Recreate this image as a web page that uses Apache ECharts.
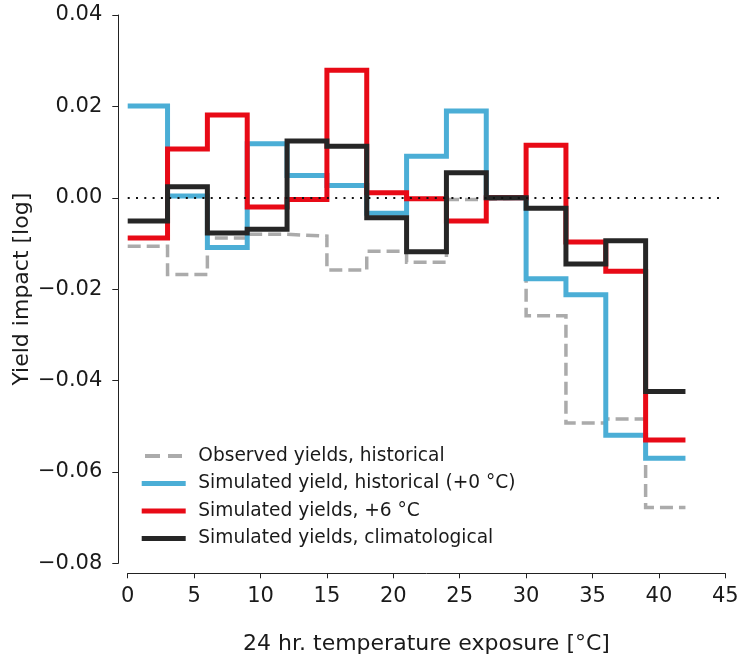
<!DOCTYPE html>
<html>
<head>
<meta charset="utf-8">
<script src="https://cdn.jsdelivr.net/npm/echarts@6/dist/echarts.min.js"></script>
<style>
  html, body { margin: 0; padding: 0; background: #fff; }
  #chart { width: 740px; height: 659px; }
</style>
</head>
<body>
<div id="chart"></div>
<script>
// bin edges of the temperature exposure (°C)
var binEdges = [0, 3, 6, 9, 12, 15, 18, 21, 24, 27, 30, 33, 36, 39, 42];

// one value per 3 °C bin
var observedHist = [-0.0106, -0.0168, -0.0088, -0.0080, -0.0084, -0.0158, -0.0117, -0.0141, -0.0004, 0, -0.0258, -0.0493, -0.0484, -0.0678];
var simHist = [0.0201, 0.0004, -0.0109, 0.0118, 0.0049, 0.0027, -0.0034, 0.0091, 0.0190, 0, -0.0177, -0.0212, -0.0520, -0.0570];
var simPlus6 = [-0.0088, 0.0107, 0.0181, -0.0020, -0.0004, 0.0279, 0.0011, -0.0002, -0.0051, 0, 0.0115, -0.0097, -0.0161, -0.0530];
var simClim = [-0.0051, 0.0024, -0.0077, -0.0069, 0.0124, 0.0113, -0.0044, -0.0118, 0.0055, 0, -0.0023, -0.0145, -0.0094, -0.0424];

var xTicks = { min: 0, max: 45, step: 5 };
var yTicks = { min: -0.08, max: 0.04, step: 0.02 };

var names = [
  'Observed yields, historical',
  'Simulated yield, historical (+0 °C)',
  'Simulated yields, +6 °C',
  'Simulated yields, climatological'
];

var FONT = 'DejaVu Sans';

// step points: value held from each left edge, last value repeated at the final edge
function stepData(vals) {
  var pts = [];
  for (var i = 0; i < vals.length; i++) {
    pts.push([binEdges[i], vals[i]]);
  }
  pts.push([binEdges[binEdges.length - 1], vals[vals.length - 1]]);
  return pts;
}

function fmtY(v) {
  var s = (Math.abs(v) < 1e-9 ? 0 : v).toFixed(2);
  return s.replace('-', '\u2212');
}

var chart = echarts.init(document.getElementById('chart'), null, { renderer: 'canvas' });

var option = {
  animation: false,
  backgroundColor: '#fff',
  textStyle: { fontFamily: FONT },
  grid: {
    left: 127.7,
    right: 14.7,
    top: 15,
    bottom: 95.7,
    containLabel: false,
    outerBoundsMode: 'none'
  },
  legend: {
    orient: 'vertical',
    left: 136.7,
    top: 441.5,
    itemWidth: 44,
    itemHeight: 5,
    itemGap: 8.5,
    textStyle: {
      fontFamily: FONT,
      fontSize: 18.6,
      color: '#1a1a1a',
      padding: [0, 0, 0, 7.6]
    },
    data: [
      { name: names[0], icon: 'path://M0,0H0.01V4H0Z M3.3,0H18.3V4H3.3Z M26.3,0H40.3V4H26.3Z M43.99,0H44V4H43.99Z' },
      { name: names[1], icon: 'rect' },
      { name: names[2], icon: 'rect' },
      { name: names[3], icon: 'rect' }
    ]
  },
  xAxis: {
    type: 'value',
    min: xTicks.min,
    max: xTicks.max,
    interval: xTicks.step,
    offset: 10,
    name: '24 hr. temperature exposure [°C]',
    nameLocation: 'middle',
    nameGap: 60,
    nameMoveOverlap: false,
    nameTextStyle: { fontFamily: FONT, fontSize: 22, color: '#1a1a1a' },
    axisLine: { show: true, onZero: false, lineStyle: { color: '#222', width: 1 } },
    axisTick: { show: true, length: 5, lineStyle: { color: '#222', width: 1 } },
    axisLabel: { fontFamily: FONT, fontSize: 21, color: '#1a1a1a', margin: 13 },
    splitLine: { show: false }
  },
  yAxis: {
    type: 'value',
    min: yTicks.min,
    max: yTicks.max,
    interval: yTicks.step,
    offset: 9.4,
    name: 'Yield impact [log]',
    nameLocation: 'middle',
    nameGap: 85,
    nameMoveOverlap: false,
    nameTextStyle: { fontFamily: FONT, fontSize: 22, color: '#1a1a1a' },
    axisLine: { show: true, onZero: false, lineStyle: { color: '#222', width: 1 } },
    axisTick: { show: true, length: 6, lineStyle: { color: '#222', width: 1 } },
    axisLabel: { fontFamily: FONT, fontSize: 21, color: '#1a1a1a', margin: 16, formatter: fmtY },
    splitLine: { show: false }
  },
  series: [
    {
      name: names[0],
      type: 'line',
      step: 'end',
      symbol: 'none',
      data: stepData(observedHist),
      lineStyle: { color: '#ababab', width: 3.5, type: [13, 6], join: 'miter', cap: 'butt' },
      itemStyle: { color: '#ababab' },
      markLine: {
        silent: true,
        symbol: 'none',
        label: { show: false },
        lineStyle: { color: '#111', width: 2, type: [2, 6.3], cap: 'butt' },
        data: [{ yAxis: 0 }]
      }
    },
    {
      name: names[1],
      type: 'line',
      step: 'end',
      symbol: 'none',
      data: stepData(simHist),
      lineStyle: { color: '#4baed6', width: 5, join: 'miter', cap: 'butt' },
      itemStyle: { color: '#4baed6' }
    },
    {
      name: names[2],
      type: 'line',
      step: 'end',
      symbol: 'none',
      data: stepData(simPlus6),
      lineStyle: { color: '#e80a16', width: 5, join: 'miter', cap: 'butt' },
      itemStyle: { color: '#e80a16' }
    },
    {
      name: names[3],
      type: 'line',
      step: 'end',
      symbol: 'none',
      data: stepData(simClim),
      lineStyle: { color: '#262626', width: 5, join: 'miter', cap: 'butt' },
      itemStyle: { color: '#262626' }
    }
  ]
};

chart.setOption(option);
</script>
</body>
</html>
